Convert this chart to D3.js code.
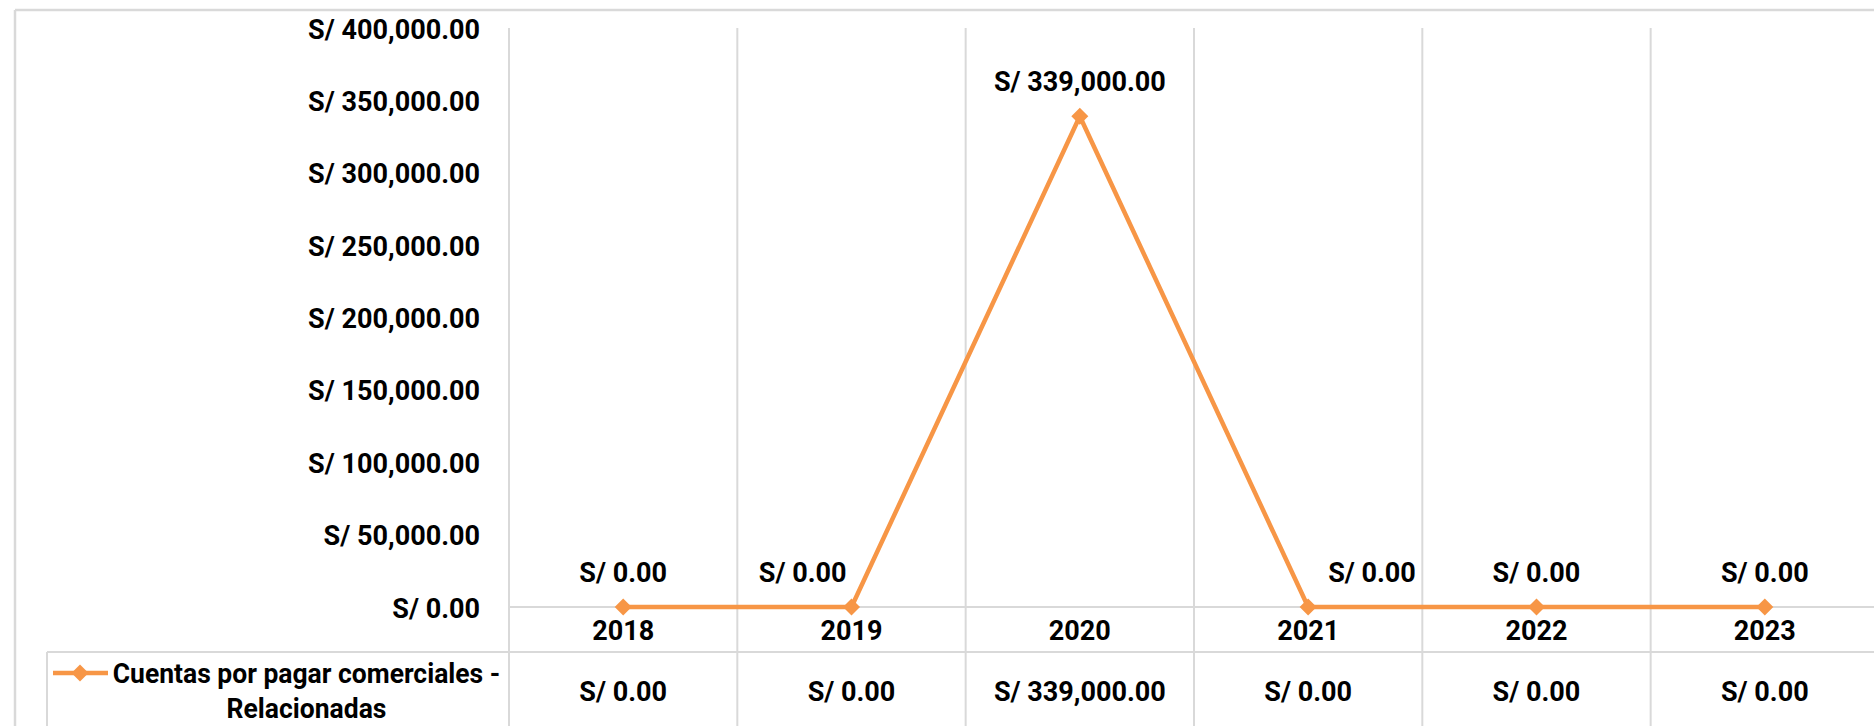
<!DOCTYPE html>
<html>
<head>
<meta charset="utf-8">
<script src="https://cdn.jsdelivr.net/npm/d3@7/dist/d3.min.js"></script>
<style>
  html, body { margin: 0; padding: 0; background: #ffffff; }
  svg { display: block; }
  text { font-family: Roboto, "Liberation Sans", Arial, sans-serif; font-weight: 700; fill: #000; }
</style>
</head>
<body>
<script>
// ---- data ----
const categories = ["2018", "2019", "2020", "2021", "2022", "2023"];
const seriesName = ["Cuentas por pagar comerciales -", "Relacionadas"];
const values = [0, 0, 339000, 0, 0, 0];
const yTicks = [0, 50000, 100000, 150000, 200000, 250000, 300000, 350000, 400000];
// label placement per point: "top", "left", "right"
const labelPos = ["top", "left", "top", "right", "top", "top"];

// ---- layout ----
const W = 1874, H = 726;
const fontSize = 28;
const color = "#F79646";
const grid = "#d9d9d9";

const plotLeft = 509, bandW = 228.33;
const plotRight = plotLeft + bandW * categories.length;
const yBase = 607, yTop = 28;
const tableTop = 652;

const svg = d3.select("body").append("svg").attr("width", W).attr("height", H);

const x = d3.scaleBand().domain(categories).range([plotLeft, plotRight]).padding(0);
const y = d3.scaleLinear().domain([0, 400000]).range([yBase, yTop]);
const fmt = v => "S/ " + d3.format(",.2f")(v);

// narrow the glyphs slightly to match the condensed look of the original
function condense(sel, k) {
  sel.each(function () {
    const w = this.getComputedTextLength();
    d3.select(this).attr("textLength", w * k).attr("lengthAdjust", "spacingAndGlyphs");
  });
}

// outer chart frame
svg.append("line").attr("x1", 15).attr("x2", W).attr("y1", 10).attr("y2", 10)
  .attr("stroke", grid).attr("stroke-width", 2.5);
svg.append("line").attr("x1", 15).attr("x2", 15).attr("y1", 10).attr("y2", H)
  .attr("stroke", grid).attr("stroke-width", 2.5);

// vertical gridlines (category boundaries) running through the data table
const bounds = categories.map(c => x(c)).concat([plotRight]);
svg.append("g").selectAll("line").data(bounds).join("line")
  .attr("x1", d => d).attr("x2", d => d)
  .attr("y1", yTop).attr("y2", H)
  .attr("stroke", grid).attr("stroke-width", 2);

// category axis line
svg.append("line").attr("x1", plotLeft).attr("x2", W).attr("y1", y(0)).attr("y2", y(0))
  .attr("stroke", grid).attr("stroke-width", 2);

// data table top line and legend cell left line
svg.append("line").attr("x1", 47).attr("x2", W).attr("y1", tableTop).attr("y2", tableTop)
  .attr("stroke", grid).attr("stroke-width", 2);
svg.append("line").attr("x1", 47).attr("x2", 47).attr("y1", tableTop).attr("y2", H)
  .attr("stroke", grid).attr("stroke-width", 2);

// y axis
const yAxis = d3.axisLeft(y).tickValues(yTicks).tickSize(0).tickPadding(29).tickFormat(fmt);
const gy = svg.append("g").attr("transform", `translate(${plotLeft},0)`).call(yAxis);
gy.select(".domain").remove();
gy.selectAll("text").attr("font-size", fontSize).attr("font-family", null).attr("dy", "0.36em")
  .call(condense, 0.965);

// x axis
const xAxis = d3.axisBottom(x).tickSize(0).tickPadding(13);
const gx = svg.append("g").attr("transform", `translate(0,${y(0)})`).call(xAxis);
gx.select(".domain").remove();
gx.selectAll("text").attr("font-size", fontSize).attr("font-family", null)
  .call(condense, 0.965);

// line
const cx = c => x(c) + x.bandwidth() / 2;
const line = d3.line().x((d, i) => cx(categories[i])).y(d => y(d));
svg.append("path").datum(values).attr("d", line)
  .attr("fill", "none").attr("stroke", color).attr("stroke-width", 4.5).attr("stroke-linejoin", "round");

const diamond = (px, py, r) => `M${px},${py - r}L${px + r},${py}L${px},${py + r}L${px - r},${py}Z`;
svg.append("g").selectAll("path").data(values).join("path")
  .attr("d", (d, i) => diamond(cx(categories[i]), y(d), 8.5))
  .attr("fill", color);

// data labels
svg.append("g").selectAll("text").data(values).join("text")
  .attr("font-size", fontSize)
  .attr("x", (d, i) => {
    const px = cx(categories[i]);
    if (labelPos[i] === "left") return px - 5;
    if (labelPos[i] === "right") return px + 20;
    return px;
  })
  .attr("y", d => y(d) - 35)
  .attr("dy", "0.36em")
  .attr("text-anchor", (d, i) => labelPos[i] === "left" ? "end" : labelPos[i] === "right" ? "start" : "middle")
  .text(fmt)
  .call(condense, 0.965);

// data table values
svg.append("g").selectAll("text").data(values).join("text")
  .attr("font-size", fontSize)
  .attr("x", (d, i) => cx(categories[i]))
  .attr("y", 691).attr("dy", "0.36em")
  .attr("text-anchor", "middle")
  .text(fmt)
  .call(condense, 0.965);

// legend key in table
svg.append("line").attr("x1", 53).attr("x2", 108).attr("y1", 673).attr("y2", 673)
  .attr("stroke", color).attr("stroke-width", 4.5);
svg.append("path").attr("d", diamond(80, 673, 8.5)).attr("fill", color);
svg.append("g").selectAll("text").data(seriesName).join("text")
  .attr("font-size", fontSize)
  .attr("x", 306.5).attr("y", (d, i) => 673 + i * 34.5).attr("dy", "0.36em")
  .attr("text-anchor", "middle")
  .text(d => d)
  .call(condense, 0.945);
</script>
</body>
</html>
